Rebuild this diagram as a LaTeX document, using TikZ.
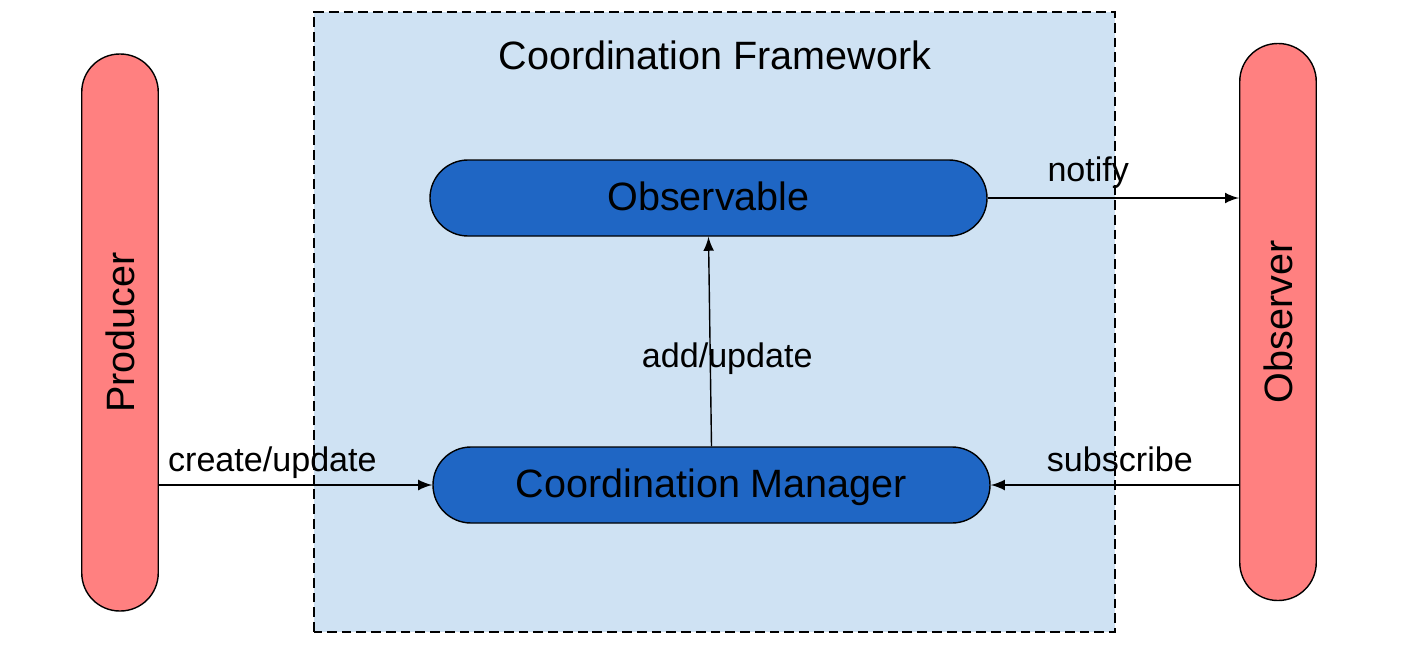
\documentclass[tikz,border=0pt]{standalone}
\usepackage{fontspec}
\setmainfont{Liberation Sans}
\definecolor{frameblue}{HTML}{CFE2F3}
\definecolor{darkblue}{HTML}{1F66C4}
\definecolor{salmon}{HTML}{FF8080}
\begin{document}
\begin{tikzpicture}[
        actor/.style={draw=black, fill=salmon, rounded corners=0.38cm, minimum width=0.765cm, minimum height=5.57cm, inner sep=0pt, font=\fontsize{11.25}{13}\selectfont},
        pill/.style={draw=black, fill=darkblue, rounded corners=0.38cm, minimum width=5.57cm, minimum height=0.76cm, inner sep=0pt, text height=0.716em, text depth=0pt, font=\fontsize{11.25}{13}\selectfont},
        link/.style={-latex, black},
        lbl/.style={font=\fontsize{9.7}{11}\selectfont, inner sep=1pt, text height=0.75em, text depth=0.25em}
    ]
        \useasboundingbox (0,0) rectangle (14.2,6.46);

        \draw[draw=black, fill=frameblue, dash pattern=on 2.8pt off 1.4pt] (3.14,0.14) rectangle (11.15,6.34);
        \node[font=\fontsize{11.25}{13}\selectfont] (title) at (7.15,5.91) {Coordination Framework};

        \node[actor] (prod) at (1.20,3.135) {\rotatebox{90}{Producer}};
        \node[actor] (obsr) at (12.78,3.24) {\rotatebox{90}{Observer}};

        \node[pill] (obsv) at (7.085,4.48) {Observable};
        \node[pill] (mgr) at (7.115,1.61) {Coordination Manager};

        \draw[link] (mgr.west -| prod.east) -- node[lbl, above, pos=0.415] {create/update} (mgr.west);
        \draw[link] (mgr.north) -- node[lbl, pos=0.42, xshift=0.17cm] {add/update} (obsv.south);
        \draw[link] (obsv.east) -- node[lbl, above, pos=0.4, yshift=1pt] {notify} (obsv.east -| obsr.west);
        \draw[link] (mgr.east -| obsr.west) -- node[lbl, above, pos=0.48] {subscribe} (mgr.east);
    \end{tikzpicture}
\end{document}
